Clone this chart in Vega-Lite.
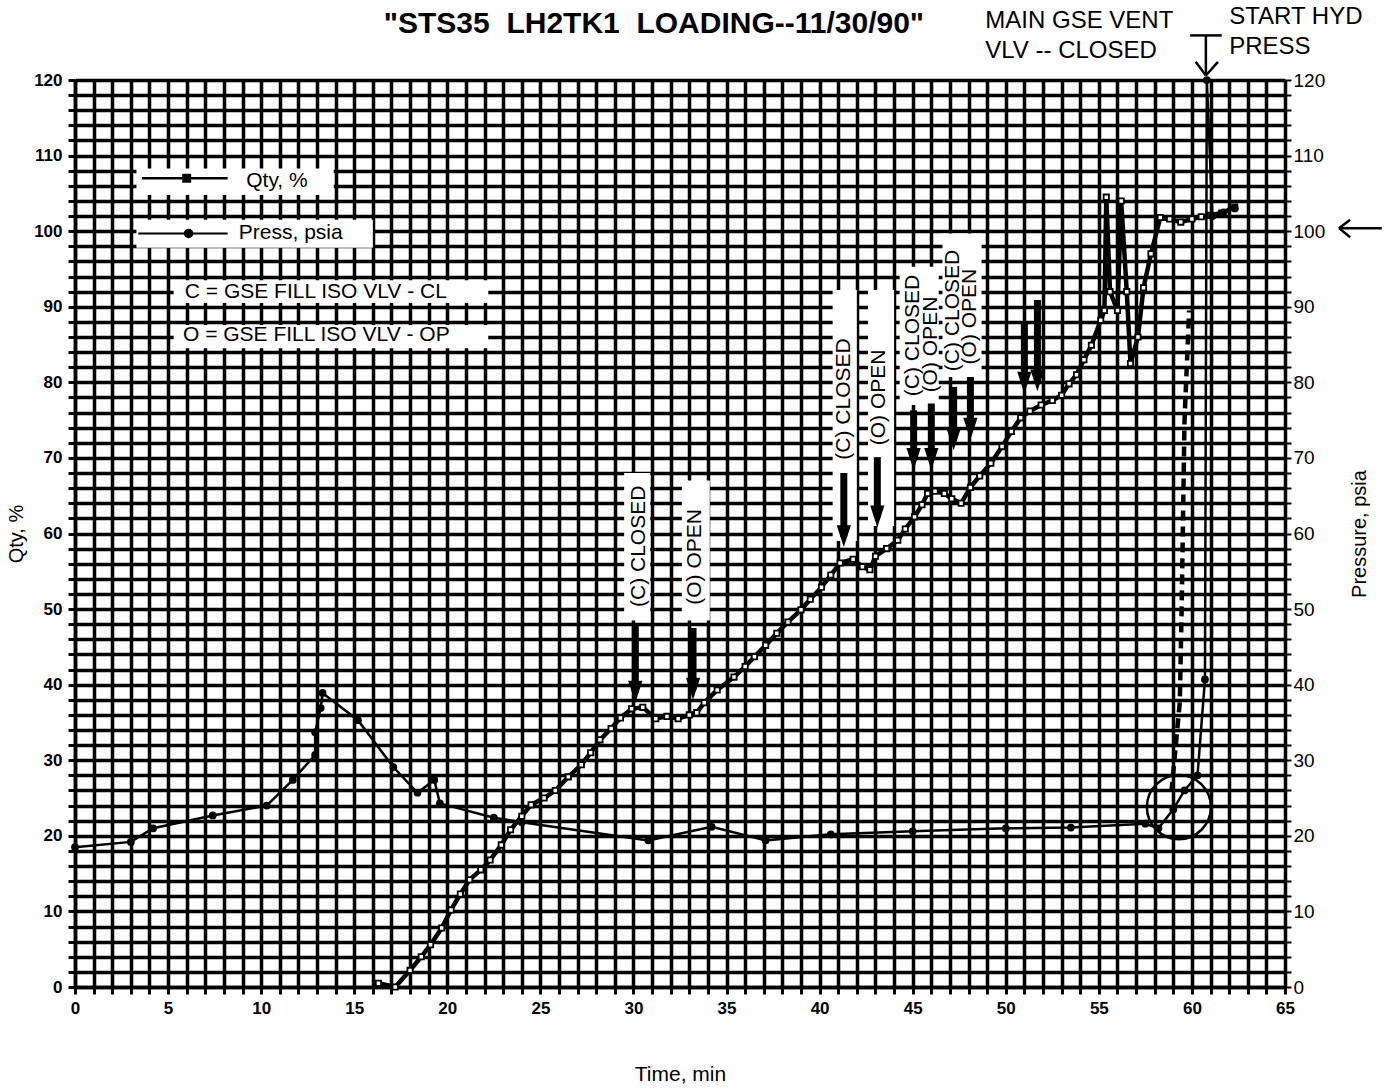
{
  "$schema": "https://vega.github.io/schema/vega-lite/v6.json",
  "autosize": {"type": "none"},
  "width": 1210,
  "height": 907,
  "padding": {"left": 75, "top": 80, "right": 99, "bottom": 104},
  "background": "white",
  "config": {"view": {"stroke": null}, "font": "Liberation Sans"},
  "datasets": {
    "qty": [
      {"t": 16.3, "qty": 0.5}, {"t": 17.2, "qty": 0}, {"t": 18.0, "qty": 2.2}, {"t": 18.6, "qty": 4.0}, {"t": 19.1, "qty": 5.6},
      {"t": 19.7, "qty": 7.8}, {"t": 20.2, "qty": 10.2}, {"t": 20.7, "qty": 12.3}, {"t": 21.2, "qty": 14.2}, {"t": 21.8, "qty": 15.5},
      {"t": 22.3, "qty": 16.8}, {"t": 22.9, "qty": 18.8}, {"t": 23.4, "qty": 20.8}, {"t": 24.0, "qty": 22.6}, {"t": 24.5, "qty": 24.1},
      {"t": 25.2, "qty": 25.0}, {"t": 25.8, "qty": 26.0}, {"t": 26.5, "qty": 27.8}, {"t": 27.2, "qty": 29.4}, {"t": 27.7, "qty": 31.0},
      {"t": 28.2, "qty": 32.7}, {"t": 28.8, "qty": 34.2}, {"t": 29.3, "qty": 35.6}, {"t": 29.9, "qty": 36.8}, {"t": 30.5, "qty": 37.0},
      {"t": 31.2, "qty": 35.5}, {"t": 31.8, "qty": 35.8}, {"t": 32.4, "qty": 35.5}, {"t": 33.0, "qty": 36.0}, {"t": 33.4, "qty": 36.3},
      {"t": 33.8, "qty": 37.6}, {"t": 34.5, "qty": 39.3}, {"t": 35.4, "qty": 41.0}, {"t": 36.0, "qty": 42.4}, {"t": 36.5, "qty": 43.7},
      {"t": 37.1, "qty": 45.2}, {"t": 37.7, "qty": 46.8}, {"t": 38.3, "qty": 48.3}, {"t": 39.0, "qty": 49.9}, {"t": 39.5, "qty": 51.3},
      {"t": 40.1, "qty": 52.9}, {"t": 40.6, "qty": 54.5}, {"t": 41.1, "qty": 56.1}, {"t": 41.8, "qty": 56.6}, {"t": 42.3, "qty": 55.6},
      {"t": 42.7, "qty": 55.2}, {"t": 43.0, "qty": 57.0}, {"t": 43.6, "qty": 58.0}, {"t": 44.2, "qty": 59.1}, {"t": 44.6, "qty": 60.6},
      {"t": 45.1, "qty": 62.2}, {"t": 45.5, "qty": 63.8}, {"t": 45.8, "qty": 65.3}, {"t": 46.2, "qty": 65.6}, {"t": 46.7, "qty": 65.3},
      {"t": 47.1, "qty": 64.6}, {"t": 47.6, "qty": 64.0}, {"t": 48.1, "qty": 66.1}, {"t": 48.6, "qty": 67.6}, {"t": 49.2, "qty": 69.3},
      {"t": 49.8, "qty": 71.5}, {"t": 50.3, "qty": 73.5}, {"t": 50.8, "qty": 75.3}, {"t": 51.3, "qty": 76.2}, {"t": 51.9, "qty": 77.0},
      {"t": 52.5, "qty": 77.6}, {"t": 53.0, "qty": 78.3}, {"t": 53.4, "qty": 79.8}, {"t": 53.8, "qty": 81.0}, {"t": 54.2, "qty": 83.0},
      {"t": 54.6, "qty": 84.9}, {"t": 55.1, "qty": 88.2}, {"t": 55.3, "qty": 89.5}, {"t": 55.4, "qty": 104.5}, {"t": 55.6, "qty": 92.0},
      {"t": 56.0, "qty": 89.5}, {"t": 56.2, "qty": 104.0}, {"t": 56.5, "qty": 92.0}, {"t": 56.7, "qty": 82.5}, {"t": 57.1, "qty": 86.0},
      {"t": 57.4, "qty": 92.5}, {"t": 57.8, "qty": 97.0}, {"t": 58.3, "qty": 101.8}, {"t": 58.8, "qty": 101.6}, {"t": 59.4, "qty": 101.2},
      {"t": 60.0, "qty": 101.6}, {"t": 60.5, "qty": 101.9}, {"t": 61.0, "qty": 102.1}, {"t": 61.6, "qty": 102.4}, {"t": 62.3, "qty": 103.2}
    ],
    "press": [
      {"t": 0, "press": 18.5}, {"t": 3.0, "press": 19.2}, {"t": 4.2, "press": 21.0}, {"t": 7.4, "press": 22.7}, {"t": 10.3, "press": 24.0},
      {"t": 11.7, "press": 27.4}, {"t": 12.9, "press": 30.7}, {"t": 12.9, "press": 33.7}, {"t": 13.2, "press": 36.9}, {"t": 13.3, "press": 38.9},
      {"t": 15.2, "press": 35.3}, {"t": 17.1, "press": 29.1}, {"t": 18.4, "press": 25.7}, {"t": 19.3, "press": 27.4}, {"t": 19.6, "press": 24.3},
      {"t": 22.5, "press": 22.4}, {"t": 24.0, "press": 21.8}, {"t": 30.8, "press": 19.4}, {"t": 34.2, "press": 21.2}, {"t": 37.1, "press": 19.4},
      {"t": 40.6, "press": 20.2}, {"t": 45.0, "press": 20.6}, {"t": 50.0, "press": 21.0}, {"t": 53.5, "press": 21.1}, {"t": 57.5, "press": 21.6},
      {"t": 58.2, "press": 21.0}, {"t": 59.0, "press": 23.5}, {"t": 59.6, "press": 26.0}, {"t": 60.3, "press": 28.0}, {"t": 60.7, "press": 40.7},
      {"t": 60.8, "press": 120.0}, {"t": 61.1, "press": 102.0}, {"t": 61.7, "press": 102.5}, {"t": 62.3, "press": 103.0}
    ],
    "dashed": [
      {"t": 59.85, "v": 89.5}, {"t": 59.6, "v": 74.8}, {"t": 59.45, "v": 50.3}, {"t": 59.35, "v": 37.7}, {"t": 58.9, "v": 25.8}
    ],
    "boxes": [
      {"x1": 3.3, "x2": 13.9, "y1": 104.8, "y2": 108.3},
      {"x1": 3.3, "x2": 16.0, "y1": 97.8, "y2": 101.5},
      {"x1": 5.3, "x2": 22.2, "y1": 90.5, "y2": 93.5},
      {"x1": 5.3, "x2": 22.2, "y1": 84.5, "y2": 87.6},
      {"x1": 29.5, "x2": 30.9, "y1": 48.5, "y2": 68.0},
      {"x1": 32.6, "x2": 34.1, "y1": 48.5, "y2": 67.0},
      {"x1": 40.7, "x2": 42.0, "y1": 59.0, "y2": 92.2},
      {"x1": 42.6, "x2": 44.0, "y1": 61.0, "y2": 92.2},
      {"x1": 44.3, "x2": 46.4, "y1": 77.0, "y2": 95.3},
      {"x1": 46.6, "x2": 48.7, "y1": 80.7, "y2": 99.7}
    ],
    "legendText": [
      {"t": 9.2, "v": 106.7, "label": "Qty, %"},
      {"t": 8.8, "v": 99.7, "label": "Press, psia"},
      {"t": 5.9, "v": 91.9, "label": "C = GSE FILL ISO VLV - CL"},
      {"t": 5.8, "v": 86.2, "label": "O = GSE FILL ISO VLV - OP"}
    ],
    "vlabels": [
      {"t": 30.3, "v": 58.3, "label": "(C) CLOSED"},
      {"t": 33.3, "v": 56.9, "label": "(O) OPEN"},
      {"t": 41.3, "v": 77.8, "label": "(C) CLOSED"},
      {"t": 43.2, "v": 78.0, "label": "(O) OPEN"},
      {"t": 45.0, "v": 86.2, "label": "(C) CLOSED"},
      {"t": 46.0, "v": 85.0, "label": "(O) OPEN"},
      {"t": 47.15, "v": 89.5, "label": "(C) CLOSED"},
      {"t": 48.1, "v": 88.7, "label": "(O) OPEN"}
    ],
    "topText": [
      {"t": 48.9, "v": 127.8, "label": "MAIN GSE VENT"},
      {"t": 48.9, "v": 123.9, "label": "VLV -- CLOSED"},
      {"t": 62.0, "v": 128.3, "label": "START HYD"},
      {"t": 62.0, "v": 124.3, "label": "PRESS"}
    ],
    "chartTitle": [
      {"t": 31.1, "v": 127.4, "label": "\"STS35\u00a0\u00a0LH2TK1\u00a0\u00a0LOADING--11/30/90\""}
    ],
    "arrows": [
      {"t": 30.1, "top": 48.1, "tip": 37.6},
      {"t": 33.2, "top": 47.5, "tip": 38.0},
      {"t": 41.3, "top": 68.0, "tip": 58.2},
      {"t": 43.1, "top": 70.1, "tip": 60.8},
      {"t": 45.05, "top": 76.3, "tip": 68.4},
      {"t": 46.0, "top": 77.2, "tip": 68.4},
      {"t": 47.2, "top": 79.4, "tip": 71.0},
      {"t": 48.1, "top": 80.7, "tip": 72.4},
      {"t": 51.0, "top": 88.0, "tip": 78.5},
      {"t": 51.7, "top": 90.9, "tip": 78.8}
    ],
    "segments": [
      {"x1": 59.9, "y1": 125.9, "x2": 61.6, "y2": 125.9},
      {"x1": 60.75, "y1": 125.9, "x2": 60.75, "y2": 120.6},
      {"x1": 60.2, "y1": 122.4, "x2": 60.75, "y2": 120.6},
      {"x1": 61.4, "y1": 122.4, "x2": 60.75, "y2": 120.6},
      {"x1": 67.9, "y1": 100.4, "x2": 70.2, "y2": 100.4},
      {"x1": 68.5, "y1": 101.5, "x2": 67.9, "y2": 100.4},
      {"x1": 68.5, "y1": 99.2, "x2": 67.9, "y2": 100.4}
    ],
    "qtySample": [{"t": 3.6, "v": 107.0}, {"t": 8.2, "v": 107.0}],
    "qtySampleMark": [{"t": 6.0, "v": 107.0}],
    "pressSample": [{"t": 3.4, "v": 99.7}, {"t": 8.2, "v": 99.7}],
    "pressSampleMark": [{"t": 6.1, "v": 99.7}],
    "circle": [{"t": 59.3, "v": 23.8}]
  },
  "layer": [
    {
      "data": {"name": "qty"},
      "mark": {"type": "line", "color": "black", "strokeWidth": 4.5, "point": {"shape": "square", "size": 28, "filled": true, "fill": "white", "stroke": "black", "strokeWidth": 1.8}},
      "encoding": {
        "x": {"field": "t", "type": "quantitative", "scale": {"domain": [0, 65], "nice": false, "zero": false},
          "axis": {"orient": "bottom", "values": [0,1,2,3,4,5,6,7,8,9,10,11,12,13,14,15,16,17,18,19,20,21,22,23,24,25,26,27,28,29,30,31,32,33,34,35,36,37,38,39,40,41,42,43,44,45,46,47,48,49,50,51,52,53,54,55,56,57,58,59,60,61,62,63,64,65],
            "labelExpr": "datum.value % 5 === 0 ? datum.label : ''", "labelOverlap": false, "labelFlush": false,
            "grid": true, "gridColor": "black", "gridWidth": 3.5, "gridOpacity": 1,
            "domain": true, "domainColor": "black", "domainWidth": 3.5,
            "ticks": true, "tickColor": "black", "tickWidth": 3, "tickSize": 7,
            "labelFont": "Liberation Sans", "labelFontWeight": "bold", "labelFontSize": 17, "labelColor": "black", "labelPadding": 6,
            "title": "Time, min", "titleFont": "Liberation Sans", "titleFontSize": 21, "titleFontWeight": "normal", "titleColor": "black", "titlePadding": 47}},
        "y": {"field": "qty", "type": "quantitative", "scale": {"domain": [0, 120], "nice": false, "zero": false},
          "axis": {"orient": "left", "values": [0,2,4,6,8,10,12,14,16,18,20,22,24,26,28,30,32,34,36,38,40,42,44,46,48,50,52,54,56,58,60,62,64,66,68,70,72,74,76,78,80,82,84,86,88,90,92,94,96,98,100,102,104,106,108,110,112,114,116,118,120],
            "labelExpr": "datum.value % 10 === 0 ? datum.label : ''", "labelOverlap": false, "labelFlush": false,
            "grid": true, "gridColor": "black", "gridWidth": 3.5, "gridOpacity": 1,
            "domain": true, "domainColor": "black", "domainWidth": 3.5,
            "ticks": true, "tickColor": "black", "tickWidth": 3, "tickSize": 7,
            "labelFont": "Liberation Sans", "labelFontWeight": "bold", "labelFontSize": 17, "labelColor": "black", "labelPadding": 6,
            "title": "Qty, %", "titleFont": "Liberation Sans", "titleFontSize": 20, "titleFontWeight": "normal", "titleColor": "black", "titlePadding": 7}}
      }
    },
    {
      "data": {"name": "dashed"},
      "mark": {"type": "line", "color": "black", "strokeWidth": 4.5, "strokeDash": [10, 6]},
      "encoding": {"x": {"field": "t", "type": "quantitative", "axis": null}, "y": {"field": "v", "type": "quantitative", "scale": {"domain": [0, 120], "nice": false, "zero": false}, "axis": null}}
    },
    {
      "data": {"name": "boxes"},
      "mark": {"type": "rect", "fill": "white"},
      "encoding": {
        "x": {"field": "x1", "type": "quantitative", "axis": null}, "x2": {"field": "x2"},
        "y": {"field": "y1", "type": "quantitative", "scale": {"domain": [0, 120], "nice": false, "zero": false}, "axis": null}, "y2": {"field": "y2"}
      }
    },
    {
      "data": {"name": "legendText"},
      "mark": {"type": "text", "align": "left", "baseline": "middle", "font": "Liberation Sans", "fontSize": 21, "color": "black"},
      "encoding": {"x": {"field": "t", "type": "quantitative", "axis": null}, "y": {"field": "v", "type": "quantitative", "scale": {"domain": [0, 120], "nice": false, "zero": false}, "axis": null}, "text": {"field": "label", "type": "nominal"}}
    },
    {
      "data": {"name": "vlabels"},
      "mark": {"type": "text", "align": "center", "baseline": "middle", "angle": 270, "font": "Liberation Sans", "fontSize": 21, "color": "black"},
      "encoding": {"x": {"field": "t", "type": "quantitative", "axis": null}, "y": {"field": "v", "type": "quantitative", "scale": {"domain": [0, 120], "nice": false, "zero": false}, "axis": null}, "text": {"field": "label", "type": "nominal"}}
    },
    {
      "data": {"name": "topText"},
      "mark": {"type": "text", "align": "left", "baseline": "middle", "font": "Liberation Sans", "fontSize": 24, "color": "black"},
      "encoding": {"x": {"field": "t", "type": "quantitative", "axis": null}, "y": {"field": "v", "type": "quantitative", "scale": {"domain": [0, 120], "nice": false, "zero": false}, "axis": null}, "text": {"field": "label", "type": "nominal"}}
    },
    {
      "data": {"name": "chartTitle"},
      "mark": {"type": "text", "align": "center", "baseline": "middle", "font": "Liberation Sans", "fontSize": 30, "fontWeight": "bold", "color": "black"},
      "encoding": {"x": {"field": "t", "type": "quantitative", "axis": null}, "y": {"field": "v", "type": "quantitative", "scale": {"domain": [0, 120], "nice": false, "zero": false}, "axis": null}, "text": {"field": "label", "type": "nominal"}}
    },
    {
      "data": {"name": "arrows"},
      "mark": {"type": "rule", "color": "black", "strokeWidth": 7, "y2Offset": -10},
      "encoding": {"x": {"field": "t", "type": "quantitative", "axis": null}, "y": {"field": "top", "type": "quantitative", "scale": {"domain": [0, 120], "nice": false, "zero": false}, "axis": null}, "y2": {"field": "tip"}}
    },
    {
      "data": {"name": "arrows"},
      "mark": {"type": "point", "shape": "M-0.65,-1L0.65,-1L0,1Z", "size": 480, "filled": true, "color": "black", "opacity": 1, "yOffset": -11},
      "encoding": {"x": {"field": "t", "type": "quantitative", "axis": null}, "y": {"field": "tip", "type": "quantitative", "scale": {"domain": [0, 120], "nice": false, "zero": false}, "axis": null}}
    },
    {
      "data": {"name": "segments"},
      "mark": {"type": "rule", "color": "black", "strokeWidth": 2.5},
      "encoding": {
        "x": {"field": "x1", "type": "quantitative", "axis": null}, "x2": {"field": "x2"},
        "y": {"field": "y1", "type": "quantitative", "scale": {"domain": [0, 120], "nice": false, "zero": false}, "axis": null}, "y2": {"field": "y2"}
      }
    },
    {
      "data": {"name": "qtySample"},
      "mark": {"type": "line", "color": "black", "strokeWidth": 2.5},
      "encoding": {"x": {"field": "t", "type": "quantitative", "axis": null}, "y": {"field": "v", "type": "quantitative", "scale": {"domain": [0, 120], "nice": false, "zero": false}, "axis": null}}
    },
    {
      "data": {"name": "qtySampleMark"},
      "mark": {"type": "point", "shape": "square", "size": 80, "filled": true, "color": "black", "opacity": 1},
      "encoding": {"x": {"field": "t", "type": "quantitative", "axis": null}, "y": {"field": "v", "type": "quantitative", "scale": {"domain": [0, 120], "nice": false, "zero": false}, "axis": null}}
    },
    {
      "data": {"name": "pressSample"},
      "mark": {"type": "line", "color": "black", "strokeWidth": 2},
      "encoding": {"x": {"field": "t", "type": "quantitative", "axis": null}, "y": {"field": "v", "type": "quantitative", "scale": {"domain": [0, 120], "nice": false, "zero": false}, "axis": null}}
    },
    {
      "data": {"name": "pressSampleMark"},
      "mark": {"type": "point", "shape": "circle", "size": 90, "filled": true, "color": "black", "opacity": 1},
      "encoding": {"x": {"field": "t", "type": "quantitative", "axis": null}, "y": {"field": "v", "type": "quantitative", "scale": {"domain": [0, 120], "nice": false, "zero": false}, "axis": null}}
    },
    {
      "data": {"name": "circle"},
      "mark": {"type": "point", "shape": "circle", "size": 4100, "filled": false, "color": "black", "strokeWidth": 2.5, "opacity": 1},
      "encoding": {"x": {"field": "t", "type": "quantitative", "axis": null}, "y": {"field": "v", "type": "quantitative", "scale": {"domain": [0, 120], "nice": false, "zero": false}, "axis": null}}
    },
    {
      "data": {"name": "press"},
      "mark": {"type": "line", "color": "black", "strokeWidth": 2.5, "point": {"shape": "circle", "size": 60, "filled": true, "color": "black"}},
      "encoding": {
        "x": {"field": "t", "type": "quantitative", "axis": null},
        "y": {"field": "press", "type": "quantitative", "scale": {"domain": [0, 120], "nice": false, "zero": false},
          "axis": {"orient": "right", "values": [0,2,4,6,8,10,12,14,16,18,20,22,24,26,28,30,32,34,36,38,40,42,44,46,48,50,52,54,56,58,60,62,64,66,68,70,72,74,76,78,80,82,84,86,88,90,92,94,96,98,100,102,104,106,108,110,112,114,116,118,120],
            "labelExpr": "datum.value % 10 === 0 ? datum.label : ''", "labelOverlap": false, "labelFlush": false,
            "grid": false, "domain": false,
            "ticks": true, "tickColor": "black", "tickWidth": 2, "tickSize": 6,
            "labelFont": "Liberation Sans", "labelFontWeight": "normal", "labelFontSize": 19, "labelColor": "black", "labelPadding": 2,
            "title": "Pressure, psia", "titleAngle": 270, "titleFont": "Liberation Sans", "titleFontSize": 20, "titleFontWeight": "normal", "titleColor": "black", "titlePadding": 45}}
      }
    }
  ],
  "resolve": {"scale": {"y": "independent"}, "axis": {"x": "independent"}}
}
